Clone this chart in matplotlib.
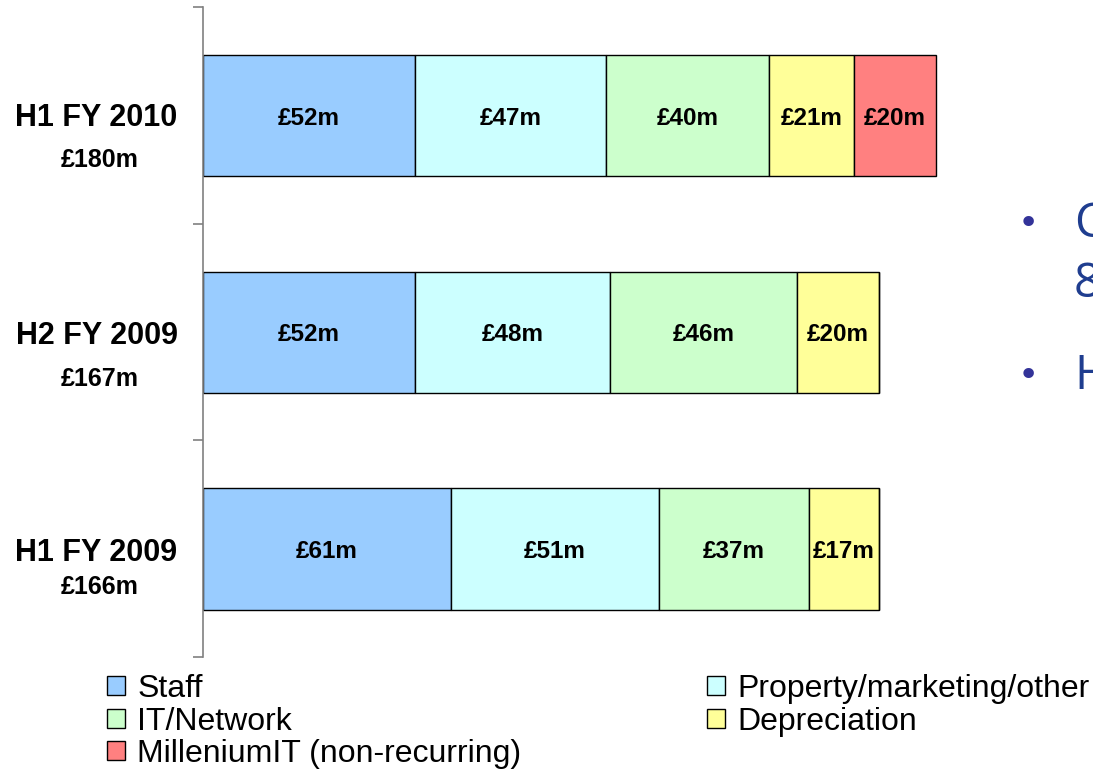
import matplotlib
matplotlib.use("Agg")
import matplotlib.pyplot as plt
import numpy as np
from matplotlib.transforms import blended_transform_factory
from matplotlib.patches import Patch

plt.rcParams['font.family'] = ['Liberation Sans', 'DejaVu Sans']

periods = ["H1 FY 2010", "H2 FY 2009", "H1 FY 2009"]
totals = ["£180m", "£167m", "£166m"]
series_names = ["Staff", "Property/marketing/other", "IT/Network",
                "Depreciation", "MilleniumIT (non-recurring)"]
staff = [52, 52, 61]
property_other = [47, 48, 51]
it_network = [40, 46, 37]
depreciation = [21, 20, 17]
millenium = [20, 0, 0]
series_values = [staff, property_other, it_network, depreciation, millenium]
colors = ["#99CCFF", "#CCFFFF", "#CCFFCC", "#FFFF99", "#FF8080"]

W, H = 1093, 772
fig = plt.figure(figsize=(W / 100, H / 100), dpi=100)
ax = fig.add_axes([203 / W, 1 - 657 / H, 1 - 203 / W, 650 / H])

px = 1 / 216.67  # one pixel in y data units
y = np.arange(len(periods))
left = np.zeros(len(periods))
for name, vals, col in zip(series_names, series_values, colors):
    vals = np.array(vals, dtype=float)
    ax.barh(y + 0.5 * px, vals, left=left, height=0.56, color=col,
            edgecolor="black", linewidth=1.0, label=name)
    for yi, (l, v) in enumerate(zip(left, vals)):
        if v > 0:
            ax.text(l + v / 2, yi + 3 * px, f"£{int(v)}m", ha="center", va="center",
                    fontsize=17.5, fontweight="bold", color="black")
    left += vals

ax.set_xlim(0, (W - 203) / 4.07)
ax.set_ylim(2.5, -0.5)
ax.set_yticks([-0.5, 0.5, 1.5, 2.5])
ax.set_yticklabels([])
ax.tick_params(axis="y", direction="out", length=7, width=1.2, color="#808080")
ax.set_xticks([])
for s in ["top", "right", "bottom"]:
    ax.spines[s].set_visible(False)
ax.spines["left"].set_color("#808080")
ax.spines["left"].set_linewidth(1.2)

tr = blended_transform_factory(fig.transFigure, ax.transData)
title_offsets = [0, 1, 1]
amount_offsets = [42, 44, 35]
for yi, (p, t) in enumerate(zip(periods, totals)):
    ax.text(96.5 / W, yi + (title_offsets[yi] + 3) * px, p, transform=tr,
            ha="center", va="center", fontsize=22, fontweight="bold")
    ax.text(100 / W, yi + (amount_offsets[yi] + 3) * px, t, transform=tr,
            ha="center", va="center", fontsize=18, fontweight="bold")

handles = [Patch(facecolor=c, edgecolor="black", linewidth=1.0) for c in colors]
leg_kw = dict(loc="upper left", frameon=False, fontsize=23, handlelength=0.55,
              handleheight=0.55, handletextpad=0.4, labelspacing=0.08,
              borderpad=0, borderaxespad=0)
fig.legend([handles[0], handles[2], handles[4]],
           [series_names[0], series_names[2], series_names[4]],
           bbox_to_anchor=(107 / W, 1 - 674 / H), **leg_kw)
fig.legend([handles[1], handles[3]],
           [series_names[1], series_names[3]],
           bbox_to_anchor=(707 / W, 1 - 674 / H), **leg_kw)

# cropped slide text at the right edge (cut off in the reference as well)
bullet_col = "#333399"
text_col = "#1f3d8f"
fig.text(1028 / W, 1 - 224 / H, "•", fontsize=26, color=bullet_col,
         ha="center", va="center", family="DejaVu Sans")
fig.text(1028 / W, 1 - 376 / H, "•", fontsize=26, color=bullet_col,
         ha="center", va="center", family="DejaVu Sans")
fig.text(1074 / W, 1 - 224 / H, "C", fontsize=34, color=text_col,
         ha="left", va="center", family="Open Sans")
fig.text(1074 / W, 1 - 284 / H, "8", fontsize=34, color=text_col,
         ha="left", va="center", family="Open Sans")
fig.text(1074 / W, 1 - 376 / H, "H", fontsize=34, color=text_col,
         ha="left", va="center", family="Open Sans")

fig.savefig("out.png", dpi=100)
